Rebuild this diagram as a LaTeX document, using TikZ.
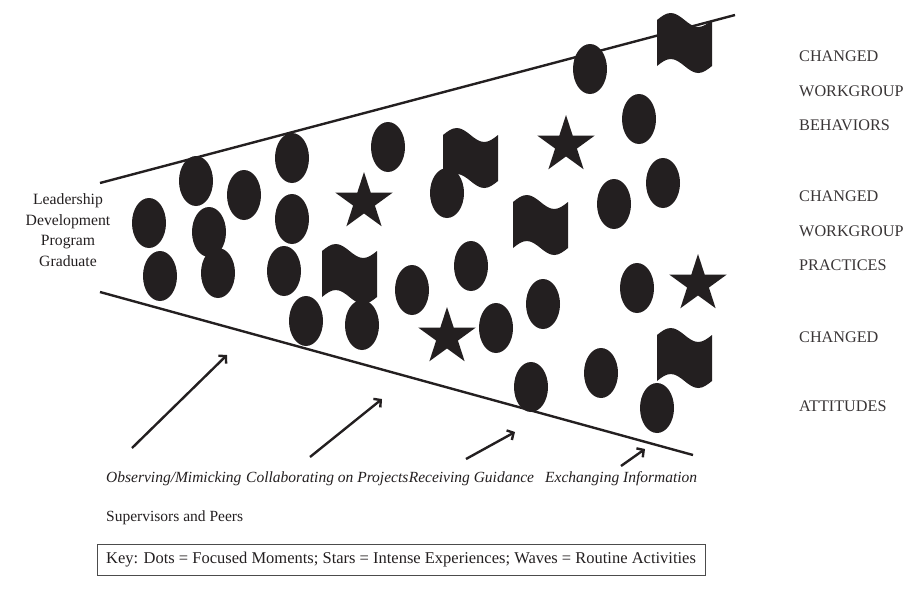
\documentclass[tikz,border=0pt]{standalone}
\usepackage{fontspec}
\setmainfont{Liberation Serif}
\usetikzlibrary{shapes.geometric,arrows.meta}
\definecolor{ink}{RGB}{35,31,32}
\newcommand\wavefl[2]{\fill[ink] (#1,#2) sin ({#1+13.75},{#2-7}) cos ({#1+27.5},#2) sin ({#1+41.25},{#2+7}) cos ({#1+55},#2) -- ({#1+55},{#2+46}) sin ({#1+41.25},{#2+53}) cos ({#1+27.5},{#2+46}) sin ({#1+13.75},{#2+39}) cos (#1,{#2+46}) -- cycle;}
\begin{document}
\begin{tikzpicture}[x=1pt,y=-1pt,
  dotm/.style={ellipse, fill=ink, minimum width=34pt, minimum height=50pt, inner sep=0pt},
  starm/.style={star, star points=5, star point ratio=2.618, fill=ink, minimum size=60pt, inner sep=0pt},
  edge/.style={draw=ink, line width=2.4pt},
  push/.style={draw=ink, line width=2.4pt, -{Straight Barb[length=5pt,width=11pt,line width=2.4pt]}},
  outc/.style={anchor=west, align=left, inner sep=0pt, font=\fontsize{16.2}{34.5}\selectfont, text=ink!90},
  act/.style={anchor=west, inner sep=0pt, font=\fontsize{15.5}{19}\selectfont\itshape, text=ink},
]
\useasboundingbox (0,0) rectangle (909,600);
% funnel edges
\coordinate (t1) at (100,183); \coordinate (t2) at (735,15);
\coordinate (b1) at (100,292); \coordinate (b2) at (693,455);
\draw[edge] (t1) -- (t2);
\draw[edge] (b1) -- (b2);
% dots
\foreach \n/\x/\y in {1/149/223, 2/196/181, 3/244/195, 4/209/232, 5/160/276, 6/218/273,
  7/292/158, 8/292/219, 9/284/271, 10/306/321, 11/362/325, 12/388/147, 13/447/193,
  14/412/290, 15/471/266, 16/496/328, 17/543/304, 18/531/387, 19/601/373, 20/590/69,
  21/639/119, 22/614/204, 23/663/183, 24/637/288, 25/657/408}
  \node[dotm] (d\n) at (\x,\y) {};
% stars
\node[starm] (s1) at (364,202) {};
\node[starm] (s2) at (447,337) {};
\node[starm] (s3) at (566,145) {};
\node[starm] (s4) at (698,284) {};
% waves
\wavefl{322}{251}
\wavefl{443}{135}
\wavefl{513}{202}
\wavefl{657}{20}
\wavefl{657}{335}
% left label
\node[align=center, font=\fontsize{15.7}{20.7}\selectfont, text=ink] (grad) at (68,230) {Leadership\\Development\\Program\\Graduate};
% outcomes
\node[outc] (o1) at (799,91) {CHANGED\\WORKGROUP\\BEHAVIORS};
\node[outc] (o2) at (799,231) {CHANGED\\WORKGROUP\\PRACTICES};
\node[outc] (o3) at (799,337) {CHANGED};
\node[outc] (o4) at (799,406) {ATTITUDES};
% activities
\node[act] (a1) at (106,479) {Observing/Mimicking};
\node[act] (a2) at (246,479) {Collaborating on Projects};
\node[act] (a3) at (a2.east) {Receiving Guidance};
\node[act] (a4) at (545,479) {Exchanging Information};
\node[anchor=west, inner sep=0pt, font=\fontsize{15.5}{19}\selectfont, text=ink] (sp) at (106,518) {Supervisors and Peers};
% arrows
\coordinate (p1) at (132,448); \coordinate (q1) at (227,355);
\coordinate (p2) at (310,457); \coordinate (q2) at (382,399);
\coordinate (p3) at (466,459); \coordinate (q3) at (515,432);
\coordinate (p4) at (621,466); \coordinate (q4) at (645,449);
\draw[push] (p1) -- (q1);
\draw[push] (p2) -- (q2);
\draw[push] (p3) -- (q3);
\draw[push] (p4) -- (q4);
% key
\node[draw=black!70, line width=0.8pt, minimum width=608pt, minimum height=31pt, inner sep=0pt, font=\fontsize{16.5}{19}\selectfont, text=ink] (key) at (401,560) {Key: Dots = Focused Moments; Stars = Intense Experiences; Waves = Routine Activities};
\end{tikzpicture}
\end{document}
